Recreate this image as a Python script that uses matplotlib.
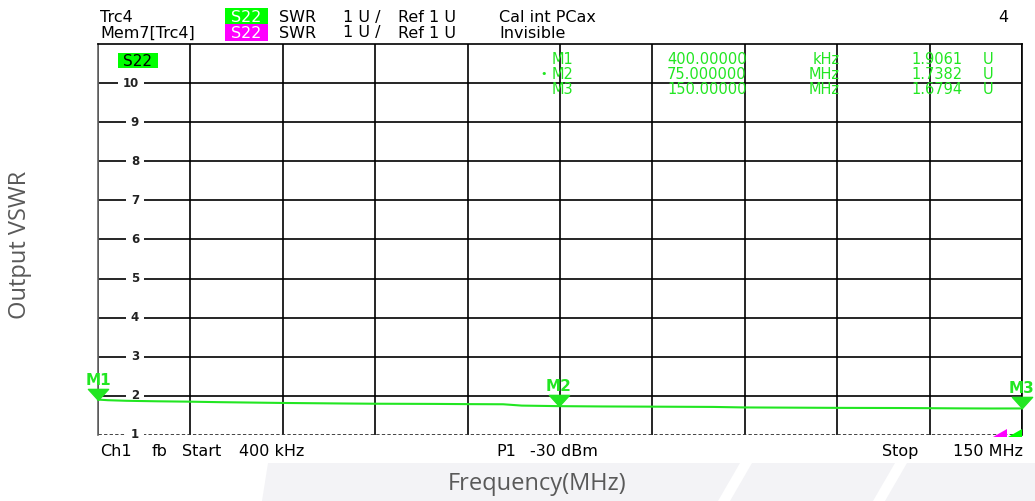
import numpy as np
import matplotlib
matplotlib.use("Agg")
import matplotlib.pyplot as plt
from matplotlib.patches import Rectangle, Polygon
from matplotlib.path import Path
import matplotlib.transforms as mtransforms

# ---------------- data ----------------
freq_mhz = [0.4, 2, 5, 10, 15, 20, 30, 40, 45, 55, 60, 66, 69, 75, 82, 90,
            100, 105, 112, 120, 130, 135, 140, 145, 150]
vswr = [1.906, 1.890, 1.875, 1.862, 1.853, 1.840, 1.820, 1.806, 1.800, 1.795,
        1.790, 1.786, 1.752, 1.738, 1.730, 1.725, 1.718, 1.705, 1.700, 1.694,
        1.690, 1.686, 1.681, 1.678, 1.679]

marker_names = ["M1", "M2", "M3"]
marker_freq = [0.4, 75.0, 150.0]
marker_vswr = [1.9061, 1.7382, 1.6794]
marker_freq_text = ["400.00000", "75.000000", "150.00000"]
marker_unit = ["kHz", "MHz", "MHz"]
marker_val_text = ["1.9061", "1.7382", "1.6794"]

y_ticks = [1, 2, 3, 4, 5, 6, 7, 8, 9, 10]
x_start, x_stop = 0.4, 150.0
y_min, y_max = 1, 11
n_xdiv = 10

GREEN = "#22e622"
BOX_GREEN = "#00ff00"
MAGENTA = "#ff00ff"
W, H = 1035, 501
VNA_FONT = "DejaVu Sans"

def fx(px):
    return px / W

def fy(py):
    return 1 - py / H

fig = plt.figure(figsize=(W / 100, H / 100), dpi=100)
fig.patch.set_facecolor("white")

# faint watermark shapes at the bottom
for poly in [[(268, 463), (740, 463), (718, 501), (262, 501)],
             [(752, 463), (895, 463), (873, 501), (730, 501)],
             [(907, 463), (1035, 463), (1035, 501), (885, 501)]]:
    fig.patches.append(Polygon([(fx(a), fy(b)) for a, b in poly], closed=True,
                               transform=fig.transFigure, facecolor="#f3f3f6",
                               edgecolor="none", zorder=-5))

ax_l, ax_r, ax_t, ax_b = 98, 1022, 44, 435
ax = fig.add_axes([fx(ax_l), fy(ax_b), fx(ax_r) - fx(ax_l), fy(ax_t) - fy(ax_b)])
ax.set_xlim(x_start, x_stop)
ax.set_ylim(y_min, y_max)

ax.set_xticks(np.linspace(x_start, x_stop, n_xdiv + 1))
ax.set_yticks(y_ticks[1:])
ax.tick_params(length=0, labelbottom=False, labelleft=False)
ax.grid(True, color="black", lw=1.2, zorder=1)
ax.set_axisbelow(True)
for s in ["top", "right"]:
    ax.spines[s].set_color("black")
    ax.spines[s].set_linewidth(1.2)
ax.spines["left"].set_color("#666666")
ax.spines["left"].set_linewidth(1.2)
ax.spines["bottom"].set_visible(False)
ax.axhline(y_min, color="#333333", lw=2.0, ls=(0, (1.2, 0.8)), zorder=1.5)

# y labels inside the plot, breaking the grid lines
trans_ax_data = mtransforms.blended_transform_factory(ax.transAxes, ax.transData)
lab_x = (139 - ax_l) / (ax_r - ax_l)
for v in y_ticks:
    ax.text(lab_x, v, str(v), transform=trans_ax_data, ha="right", va="center",
            fontsize=8.5, fontweight="bold", color="#222222", family=VNA_FONT,
            bbox=dict(facecolor="white", edgecolor="none", boxstyle="square,pad=0.4"),
            zorder=3)

# trace
ax.plot(freq_mhz, vswr, color=GREEN, lw=1.5, zorder=4, clip_on=False)

# marker triangles and labels
tri = Path([(-1, 1.1), (1, 1.1), (0, 0), (-1, 1.1)],
           [Path.MOVETO, Path.LINETO, Path.LINETO, Path.CLOSEPOLY])
ax.plot(marker_freq, marker_vswr, ls="none", marker=tri, markersize=16,
        color=GREEN, mec=GREEN, zorder=5, clip_on=False)
for name, f, v in zip(marker_names, marker_freq, marker_vswr):
    ax.annotate(name, xy=(f, v), xytext=(0, 12), textcoords="offset pixels",
                ha="center", va="bottom", fontsize=11, fontweight="bold",
                color=GREEN, family=VNA_FONT, zorder=6, annotation_clip=False)

# S22 box inside plot
fig.patches.append(Rectangle((fx(118), fy(68)), fx(158) - fx(118), fy(53) - fy(68),
                             transform=fig.transFigure, facecolor=BOX_GREEN,
                             edgecolor="none", zorder=3))
fig.text(fx(138), fy(65.5), "S22", ha="center", va="baseline", fontsize=11,
         color="black", family=VNA_FONT, zorder=4)

# marker table
row_base = [64, 79, 94]
for i in range(3):
    y = fy(row_base[i])
    kw = dict(va="baseline", fontsize=10.5, color=GREEN, family=VNA_FONT, zorder=4)
    fig.text(fx(552), y, marker_names[i], ha="left", **kw)
    fig.text(fx(667), y, marker_freq_text[i], ha="left", **kw)
    fig.text(fx(840), y, marker_unit[i], ha="right", **kw)
    fig.text(fx(963), y, marker_val_text[i], ha="right", **kw)
    fig.text(fx(983), y, "U", ha="left", **kw)
fig.text(fx(540), fy(77), "•", ha="left", va="baseline", fontsize=8,
         color=GREEN, family=VNA_FONT, zorder=4)

# header
hkw = dict(va="baseline", fontsize=11.5, color="black", family=VNA_FONT)
r1, r2 = fy(22), fy(37.5)
fig.text(fx(100), r1, "Trc4", ha="left", **hkw)
fig.text(fx(100), r2, "Mem7[Trc4]", ha="left", **hkw)
for yy in (r1, r2):
    fig.text(fx(279), yy, "SWR", ha="left", **hkw)
    fig.text(fx(343), yy, "1 U /", ha="left", **hkw)
    fig.text(fx(398), yy, "Ref 1 U", ha="left", **hkw)
fig.text(fx(499), r1, "Cal int PCax", ha="left", **hkw)
fig.text(fx(499), r2, "Invisible", ha="left", **hkw)
fig.text(fx(1008), r1, "4", ha="right", **hkw)
fig.patches.append(Rectangle((fx(225), fy(24.5)), fx(268) - fx(225), fy(8) - fy(24.5),
                             transform=fig.transFigure, facecolor=BOX_GREEN,
                             edgecolor="none", zorder=3))
fig.patches.append(Rectangle((fx(225), fy(41)), fx(268) - fx(225), fy(24.5) - fy(41),
                             transform=fig.transFigure, facecolor=MAGENTA,
                             edgecolor="none", zorder=3))
fig.text(fx(246.5), r1, "S22", ha="center", va="baseline", fontsize=11.5,
         color="white", family=VNA_FONT, zorder=4)
fig.text(fx(246.5), r2, "S22", ha="center", va="baseline", fontsize=11.5,
         color="white", family=VNA_FONT, zorder=4)

# footer of the analyzer screen
fkw = dict(va="baseline", fontsize=11.5, color="black", family=VNA_FONT)
fb = fy(456)
fig.text(fx(100), fb, "Ch1", ha="left", **fkw)
fig.text(fx(152), fb, "fb", ha="left", **fkw)
fig.text(fx(182), fb, "Start", ha="left", **fkw)
fig.text(fx(239), fb, "400 kHz", ha="left", **fkw)
fig.text(fx(496), fb, "P1", ha="left", **fkw)
fig.text(fx(530), fb, "-30 dBm", ha="left", **fkw)
fig.text(fx(882), fb, "Stop", ha="left", **fkw)
fig.text(fx(1023), fb, "150 MHz", ha="right", **fkw)

# small reference-level indicators at bottom right
for pts, col in [([(993, 437), (1007, 437), (1007, 429)], MAGENTA),
                 ([(1008, 437), (1022, 437), (1022, 429)], BOX_GREEN)]:
    fig.patches.append(Polygon([(fx(a), fy(b)) for a, b in pts], closed=True,
                               transform=fig.transFigure, facecolor=col,
                               edgecolor="none", zorder=5))

# outer axis titles
fig.text(fx(20), fy(245), "Output VSWR", rotation=90, ha="center", va="center",
         fontsize=17, color="#595959", family="Open Sans")
fig.text(fx(537), fy(484), "Frequency(MHz)", ha="center", va="center",
         fontsize=17, color="#595959", family="Open Sans")

fig.savefig("out.png", dpi=100)
